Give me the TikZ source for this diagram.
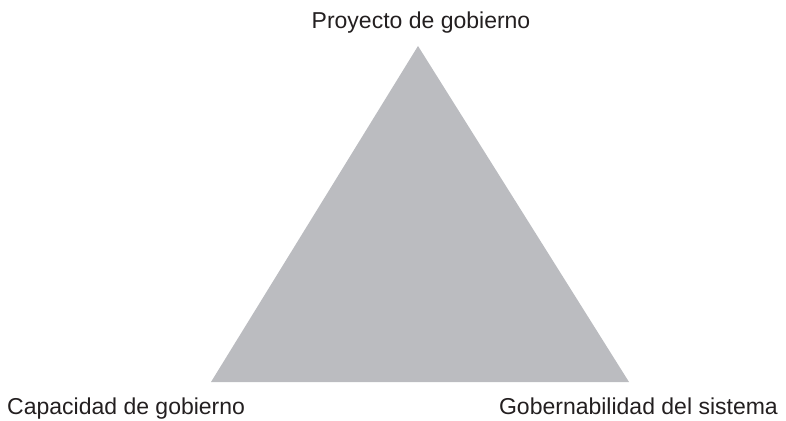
\documentclass[tikz,border=0pt]{standalone}
\usepackage{fontspec}
\setmainfont{Liberation Sans}
\definecolor{trigrey}{HTML}{BBBCC0}
\definecolor{txtgrey}{HTML}{231F20}
\begin{document}
\begin{tikzpicture}[x=1pt,y=-1pt,
  lbl/.style={inner sep=0pt,text=txtgrey,font=\fontsize{23}{27}\selectfont}]
\useasboundingbox (0,0) rectangle (786,420);
\coordinate (apex) at (418,46);
\coordinate (bl) at (211,382);
\coordinate (br) at (629,382);
\fill[trigrey] (apex) -- (bl) -- (br) -- cycle;
\node[lbl,anchor=base] (top) at (421,29) {Proyecto de gobierno};
\node[lbl,anchor=base west] (left) at (7,414) {Capacidad de gobierno};
\node[lbl,anchor=base east] (right) at (778,414) {Gobernabilidad del sistema};
\end{tikzpicture}
\end{document}
